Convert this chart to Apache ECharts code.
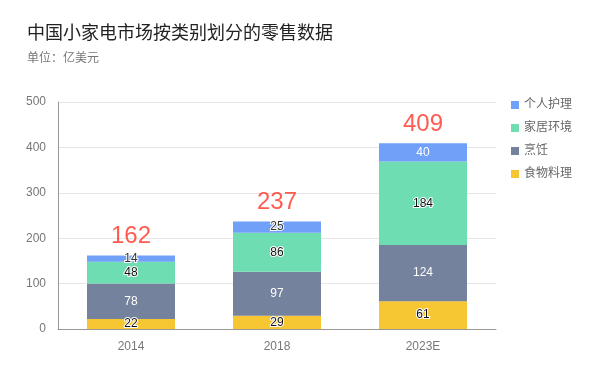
<!DOCTYPE html>
<html>
<head>
<meta charset="utf-8">
<script src="https://cdn.jsdelivr.net/npm/echarts@6/dist/echarts.min.js"></script>
<style>
  html, body { margin: 0; padding: 0; background: #fff; }
  #main { width: 600px; height: 376px; }
</style>
</head>
<body>
<div id="main"></div>
<script>
var years = ['2014', '2018', '2023E'];
var food = [22, 29, 61];      // 食物料理
var cooking = [78, 97, 124];  // 烹饪
var home = [48, 86, 184];     // 家居环境
var personal = [14, 25, 40];  // 个人护理
var totals = [162, 237, 409];

var myChart = echarts.init(document.getElementById('main'));

var darkLabel = { color: '#333', textBorderColor: '#fff', textBorderWidth: 2 };
var whiteLabel = { color: '#fff', textBorderColor: 'transparent', textBorderWidth: 0 };

// 堆叠柱子的一段
function seg(name, data, color, light) {
  return {
    name: name,
    type: 'bar',
    stack: 'total',
    barWidth: 88,
    data: data,
    itemStyle: { color: color },
    label: Object.assign({ show: true, position: 'inside', fontSize: 12 },
      light ? { color: '#111', textBorderColor: '#fff', textBorderWidth: 2 } : whiteLabel)
  };
}

var personalSeries = seg('个人护理', personal, '#71a0f9', false);
// 段太窄放不下文字时改成深色描边
personalSeries.data = personal.map(function (v) {
  return v < 30 ? { value: v, label: darkLabel } : v;
});

var option = {
  textStyle: { fontFamily: '"Liberation Sans", "Noto Sans CJK SC", sans-serif' },
  title: {
    text: '中国小家电市场按类别划分的零售数据',
    subtext: '单位：亿美元',
    left: 22,
    top: 20,
    itemGap: 10,
    textStyle: { fontSize: 18, fontWeight: 'normal', color: '#222' },
    subtextStyle: { fontSize: 12, color: '#777' }
  },
  legend: {
    orient: 'vertical',
    left: 506,
    top: 94,
    itemWidth: 8,
    itemHeight: 8,
    itemGap: 11,
    icon: 'rect',
    textStyle: { color: '#666', fontSize: 12 },
    data: ['个人护理', '家居环境', '烹饪', '食物料理']
  },
  grid: { left: 58, right: 104, top: 102, bottom: 47 },
  xAxis: {
    type: 'category',
    data: years,
    axisTick: { show: false },
    axisLine: { lineStyle: { color: '#999' } },
    axisLabel: { color: '#777', fontSize: 12, margin: 12 }
  },
  yAxis: {
    type: 'value',
    min: 0,
    max: 500,
    interval: 100,
    axisLine: { show: true, lineStyle: { color: '#999' } },
    axisLabel: { color: '#777', fontSize: 12, margin: 12 },
    splitLine: { lineStyle: { color: '#e6e6e6' } }
  },
  series: [
    seg('食物料理', food, '#f7c633', true),
    seg('烹饪', cooking, '#74829d', false),
    seg('家居环境', home, '#6fddb2', true),
    personalSeries,
    {
      name: 'total',
      type: 'scatter',
      data: totals,
      symbolSize: 0,
      silent: true,
      label: {
        show: true,
        position: 'top',
        distance: 7,
        color: '#ff3326',
        fontSize: 24
      }
    }
  ]
};

myChart.setOption(option);
</script>
</body>
</html>
